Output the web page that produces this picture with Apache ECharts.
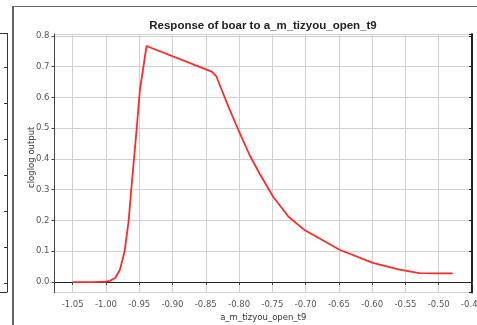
<!DOCTYPE html>
<html>
<head>
<meta charset="utf-8">
<script src="https://cdn.jsdelivr.net/npm/echarts@6/dist/echarts.min.js"></script>
<style>
html, body { margin: 0; padding: 0; background: #fff; }
#main { width: 477px; height: 325px; }
</style>
</head>
<body>
<div id="main"></div>
<script>
// response curve
var xVals = [-1.05, -1.02, -1.00, -0.994, -0.986, -0.979, -0.972, -0.966, -0.962, -0.958,
	-0.954, -0.949, -0.939, -0.866, -0.841, -0.834, -0.826, -0.816, -0.801, -0.784,
	-0.769, -0.749, -0.726, -0.701, -0.649, -0.599, -0.559, -0.529, -0.50, -0.479];
var yVals = [0.0, 0.0, 0.001, 0.004, 0.013, 0.040, 0.099, 0.197, 0.300, 0.397,
	0.494, 0.624, 0.767, 0.705, 0.684, 0.668, 0.624, 0.570, 0.494, 0.412,
	0.352, 0.278, 0.213, 0.168, 0.105, 0.062, 0.040, 0.029, 0.028, 0.028];
var xRange = [-1.0773, -0.45];
var yRange = [-0.034, 0.806];
var leftPanelTicks = [67, 103, 139, 175, 211, 247, 283];

var points = [];
for (var i = 0; i < xVals.length; i++) {
	points.push([xVals[i], yVals[i]]);
}

var tickFont = 'DejaVu Sans';
var frame = [
	// piece of the neighbouring panel
	{ type: 'line', shape: { x1: 7.5, y1: 33, x2: 7.5, y2: 292 }, style: { stroke: '#333', lineWidth: 1 } },
	{ type: 'line', shape: { x1: 0, y1: 33.5, x2: 7.5, y2: 33.5 }, style: { stroke: '#333', lineWidth: 1 } },
	{ type: 'line', shape: { x1: 0, y1: 292.5, x2: 7.5, y2: 292.5 }, style: { stroke: '#333', lineWidth: 1 } },
	// outer panel border
	{ type: 'line', shape: { x1: 13, y1: 6, x2: 13, y2: 325 }, style: { stroke: '#333', lineWidth: 1.5 } },
	{ type: 'line', shape: { x1: 13, y1: 6.5, x2: 477, y2: 6.5 }, style: { stroke: '#666', lineWidth: 1 } },
	// title
	{
		type: 'text', x: 263, y: 26,
		style: {
			text: 'Response of boar to a_m_tizyou_open_t9',
			align: 'center', verticalAlign: 'middle',
			font: 'bold 11.5px "Liberation Sans", Arial, sans-serif',
			fill: '#222'
		}
	}
];
leftPanelTicks.forEach(function (y) {
	frame.push({ type: 'line', shape: { x1: 4, y1: y + 0.5, x2: 7.5, y2: y + 0.5 }, style: { stroke: '#333', lineWidth: 1 } });
});

var option = {
	animation: false,
	backgroundColor: '#fff',
	textStyle: { fontFamily: tickFont },
	graphic: frame,
	grid: { left: 54.5, top: 34, right: 5, bottom: 32.5, outerBoundsMode: 'none' },
	xAxis: [{
		type: 'value',
		min: xRange[0],
		max: xRange[1],
		splitNumber: 12,
		name: 'a_m_tizyou_open_t9',
		nameLocation: 'middle',
		nameGap: 21,
		nameMoveOverlap: false,
		nameTextStyle: { fontSize: 8.5, color: '#333', fontFamily: tickFont },
		axisLine: { lineStyle: { color: '#444', width: 1 } },
		axisTick: { show: true, length: 3, lineStyle: { color: '#444' } },
		axisLabel: {
			fontSize: 8.5, color: '#555', margin: 8, fontFamily: tickFont,
			showMinLabel: false,
			formatter: function (v) { return v.toFixed(2); }
		},
		splitLine: { show: true, lineStyle: { color: '#d0d0d0', width: 1 } }
	}, {
		type: 'value',
		position: 'top',
		min: xRange[0],
		max: xRange[1],
		splitNumber: 12,
		axisLine: { lineStyle: { color: '#222', width: 1 } },
		axisTick: { show: false },
		axisLabel: { show: false },
		splitLine: { show: false }
	}],
	yAxis: [{
		type: 'value',
		min: yRange[0],
		max: yRange[1],
		splitNumber: 8,
		name: 'cloglog output',
		nameLocation: 'middle',
		nameGap: 18,
		nameMoveOverlap: false,
		nameTextStyle: { fontSize: 8.5, color: '#333', fontFamily: tickFont, padding: [0, 0, 0, 12] },
		axisLine: { show: true, lineStyle: { color: '#444', width: 1 } },
		axisTick: { show: true, length: 3, lineStyle: { color: '#444' } },
		axisLabel: {
			fontSize: 8.5, color: '#555', margin: 5, fontFamily: tickFont,
			showMinLabel: false, showMaxLabel: false,
			formatter: function (v) { return v.toFixed(1); }
		},
		splitLine: { show: true, lineStyle: { color: '#d0d0d0', width: 1 } }
	}, {
		type: 'value',
		position: 'right',
		min: yRange[0],
		max: yRange[1],
		splitNumber: 8,
		axisLine: { show: true, lineStyle: { color: '#222', width: 2 } },
		axisTick: { show: true, inside: true, length: 3, lineStyle: { color: '#222' } },
		axisLabel: { show: false },
		splitLine: { show: false }
	}],
	series: [{
		type: 'line',
		data: points,
		showSymbol: false,
		symbol: 'none',
		smooth: false,
		lineStyle: { color: '#ff2a2a', width: 1.8 }
	}]
};

var myChart = echarts.init(document.getElementById('main'));
myChart.setOption(option);
</script>
</body>
</html>
